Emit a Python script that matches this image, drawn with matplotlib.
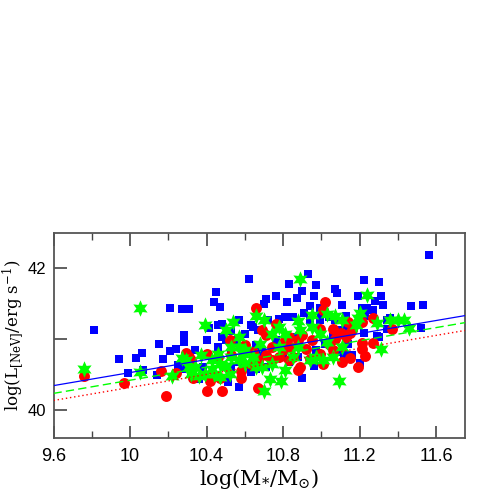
import numpy as np
import matplotlib
matplotlib.use("Agg")
import matplotlib.pyplot as plt
from matplotlib.ticker import MultipleLocator, FixedLocator, FuncFormatter

plt.rcParams['mathtext.fontset'] = 'dejavuserif'

# ---- data ----
blue_x = [9.81, 9.94, 9.99, 10.03, 10.06, 10.07, 10.14, 10.15, 10.17, 10.21, 10.21, 10.27, 10.31,
          10.28, 10.28, 10.24, 10.25, 10.27, 10.34, 10.40, 10.41, 10.45, 10.44, 10.47, 10.46, 10.48,
          10.51, 10.57, 10.62, 10.63, 10.36, 10.70, 10.71, 10.76, 10.83, 10.93, 10.97, 10.90, 10.87,
          10.82, 10.96, 10.94, 10.91, 10.99, 11.07, 11.08, 11.19, 11.22, 11.30, 11.31, 11.28, 11.32,
          11.11, 11.21, 11.24, 11.27, 11.47, 11.53, 11.56, 11.23, 11.13, 11.36, 11.34, 11.52, 11.22,
          11.29, 11.30, 11.20, 11.16, 11.12, 10.90, 10.63, 10.96, 10.48, 10.78, 10.81, 10.85, 10.94,
          10.99, 11.04, 11.07, 10.67, 10.60, 10.64, 10.53, 10.55, 10.66, 10.69, 10.64, 10.66, 10.57,
          10.53, 10.53, 10.38, 10.43, 10.32, 10.46, 10.50, 10.76, 10.80, 10.83, 10.88, 10.97, 11.02,
          11.06, 11.09, 11.14, 11.17, 11.13, 11.09, 10.87, 10.72, 10.57, 10.71, 10.74, 11.34, 11.00]
blue_y = [41.13, 40.72, 40.52, 40.73, 40.80, 40.56, 40.49, 40.93, 40.72, 40.83, 41.43, 41.42, 41.42,
          41.05, 40.95, 40.86, 40.63, 40.57, 40.85, 40.99, 41.15, 41.66, 41.52, 41.45, 41.20, 41.02,
          40.39, 40.32, 41.85, 41.19, 40.44, 41.50, 41.56, 41.61, 41.78, 41.92, 41.76, 41.67, 41.58,
          41.52, 41.60, 41.46, 41.36, 41.44, 41.71, 41.65, 41.61, 41.83, 41.81, 41.60, 41.53, 41.48,
          41.48, 41.44, 41.44, 41.41, 41.47, 41.48, 42.18, 41.33, 41.33, 41.29, 41.14, 41.15, 41.08,
          41.04, 41.03, 40.66, 40.77, 40.77, 40.45, 40.53, 40.62, 41.21, 41.28, 41.31, 41.31, 41.26,
          41.26, 41.31, 41.26, 41.12, 41.07, 41.17, 41.11, 40.99, 40.91, 40.81, 40.70, 40.58, 40.67,
          40.79, 40.60, 40.60, 40.70, 40.51, 40.88, 40.98, 40.98, 40.74, 40.67, 40.74, 40.84, 40.93,
          41.03, 40.81, 40.93, 41.17, 41.17, 41.12, 41.03, 41.26, 41.26, 40.60, 40.70, 41.26, 41.36]

red_x = [9.76, 9.97, 10.16, 10.19, 10.24, 10.29, 10.33, 10.40, 10.48, 10.40, 10.42, 10.47, 10.58,
         10.58, 10.67, 10.66, 10.76, 11.02, 11.01, 11.14, 11.21, 11.27, 11.37, 11.06, 11.10, 11.15,
         10.99, 11.27, 11.21, 11.21, 11.23, 11.19, 11.15, 11.11, 11.01, 10.88, 10.53, 10.60, 10.69,
         10.71, 10.81, 10.83, 10.84, 10.80, 10.78, 10.74, 10.83, 10.88, 10.90, 10.92, 10.95, 10.99,
         11.04, 11.06, 11.13, 11.16, 10.71, 10.67, 10.64, 10.52, 10.46, 10.32, 10.31, 10.89, 10.94,
         11.07, 10.85, 10.74, 10.63]
red_y = [40.47, 40.38, 40.55, 40.20, 40.52, 40.80, 40.45, 40.27, 40.26, 40.79, 40.41, 40.45, 40.45,
         40.55, 40.31, 41.44, 41.21, 41.52, 41.41, 41.24, 41.24, 41.29, 41.14, 41.14, 41.09, 41.09,
         41.14, 40.94, 40.94, 40.86, 40.76, 40.60, 40.73, 40.67, 40.64, 40.56, 40.77, 40.91, 41.12,
         41.05, 40.98, 41.03, 40.88, 40.84, 40.74, 40.70, 40.70, 40.98, 41.05, 40.86, 40.98, 40.79,
         40.93, 40.84, 41.03, 41.12, 40.77, 40.70, 40.81, 40.98, 40.74, 40.70, 40.74, 40.60, 40.72,
         41.00, 40.74, 40.88, 40.65]

green_x = [9.76, 10.05, 10.05, 10.22, 10.27, 10.39, 10.54, 10.50, 10.34, 10.37, 10.66, 10.57, 10.70,
           10.89, 10.88, 10.95, 11.24, 11.03, 11.07, 11.11, 11.19, 11.18, 11.29, 11.36, 11.40, 11.43,
           11.46, 11.31, 11.09, 10.73, 10.79, 10.70, 10.81, 11.03, 11.01, 10.74, 10.78, 10.81, 10.85,
           10.88, 10.94, 10.97, 10.99, 11.06, 11.11, 10.68, 10.64, 10.60, 10.57, 10.53, 10.57, 10.60,
           10.66, 10.50, 10.47, 10.43, 10.39, 10.36, 10.44, 10.52, 10.47, 10.53, 10.59, 10.46, 10.43,
           10.31, 10.29, 10.32, 10.74, 10.69, 10.78, 10.95, 10.89, 11.20]
green_y = [40.58, 41.44, 40.53, 40.47, 40.73, 41.20, 41.24, 41.12, 40.60, 40.77, 41.33, 41.03, 41.27,
           41.84, 41.25, 41.34, 41.62, 41.35, 41.33, 41.26, 41.29, 41.19, 41.22, 41.27, 41.27, 41.27,
           41.16, 40.86, 40.40, 40.44, 40.40, 40.26, 40.56, 40.96, 40.70, 41.07, 41.17, 41.07, 40.74,
           40.88, 40.70, 40.74, 41.07, 40.74, 40.88, 40.93, 40.74, 40.84, 40.88, 40.74, 40.70, 40.65,
           40.60, 40.60, 40.65, 40.58, 40.51, 40.48, 40.51, 40.51, 40.46, 40.88, 40.79, 40.79, 40.70,
           40.60, 40.70, 40.51, 40.65, 40.60, 40.88, 41.17, 41.12, 41.36]

# linear fits: value at x=9.6 and slope
fit_blue = (40.34, 0.46)
fit_green = (40.23, 0.465)
fit_red = (40.13, 0.46)

xlim = (9.6, 11.75)
ylim = (39.6, 42.5)

fig = plt.figure(figsize=(4.91, 4.91), dpi=100)
ax = fig.add_axes([0.109, 0.108, 0.838, 0.418])

ax.scatter(blue_x, blue_y, marker='s', s=30, color='#0000ff', linewidths=0, zorder=2)
ax.scatter(red_x, red_y, marker='o', s=62, color='#ff0000', linewidths=0, zorder=3)
ax.scatter(green_x, green_y, marker=(6, 1, 0), s=140, color='#00ff00', linewidths=0, zorder=4)

xx = np.array(xlim)
ax.plot(xx, fit_blue[0] + fit_blue[1] * (xx - 9.6), color='#0000ff', lw=0.9, zorder=5)
ax.plot(xx, fit_green[0] + fit_green[1] * (xx - 9.6), color='#00ff00', lw=1.0,
        ls=(0, (6, 3)), zorder=5)
ax.plot(xx, fit_red[0] + fit_red[1] * (xx - 9.6), color='#ff0000', lw=1.0,
        ls=(0, (1, 2)), zorder=5)

ax.set_xlim(*xlim)
ax.set_ylim(*ylim)

ax.xaxis.set_major_locator(MultipleLocator(0.4))
ax.xaxis.set_minor_locator(MultipleLocator(0.2))
ax.xaxis.set_major_formatter(FuncFormatter(lambda v, p: ('%g' % round(v, 1))))
ax.yaxis.set_major_locator(FixedLocator([40, 41, 42]))
ax.yaxis.set_major_formatter(FuncFormatter(lambda v, p: ('%d' % round(v)) if round(v) % 2 == 0 else ''))

for sp in ax.spines.values():
    sp.set_color('#555555')
    sp.set_linewidth(1.3)

ax.tick_params(axis='x', which='major', direction='in', length=9, width=1.2, color='#444444',
               top=True, bottom=True, labelsize=13, pad=7)
ax.tick_params(axis='x', which='minor', direction='in', length=5, width=1.0, color='#444444',
               top=True, bottom=True)
ax.tick_params(axis='y', which='major', direction='in', length=9, width=1.2, color='#444444',
               left=True, right=False, labelsize=12, pad=5)
for lab in ax.get_xticklabels() + ax.get_yticklabels():
    lab.set_family('Liberation Sans')

ax.set_xlabel(r'log(M$_{*}$/M$_{\odot}$)', fontsize=15, family='DejaVu Serif', labelpad=2)
ax.set_ylabel(r'log(L$_{\rm [NeV]}$/erg s$^{-1}$)', fontsize=12, family='DejaVu Serif')
ax.yaxis.label.set_va('center')
ax.yaxis.set_label_coords(-0.097, 0.5)

fig.savefig('out.png', dpi=100)
